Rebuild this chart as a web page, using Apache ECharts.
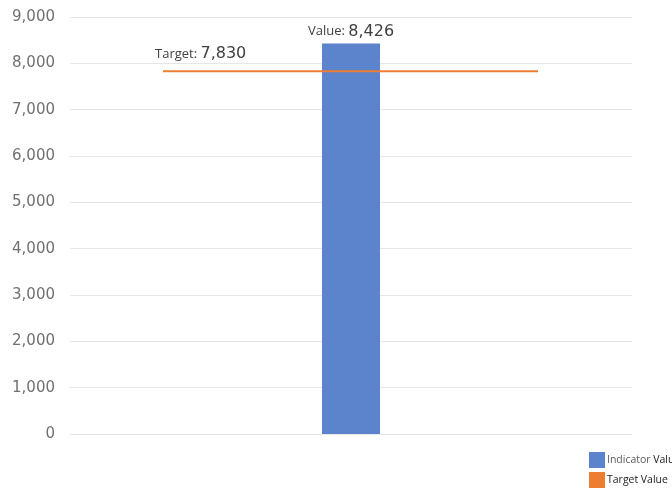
<!doctype html>
<html>
<head>
<meta charset="utf-8">
<title>Indicator vs Target</title>
<script src="https://cdn.jsdelivr.net/npm/echarts@6/dist/echarts.min.js"></script>
<style>
  html, body { margin: 0; padding: 0; background: #fff; }
  #chart { width: 672px; height: 492px; }
</style>
</head>
<body>
<div id="chart"></div>
<script>
// data
var categories = ['Indicator'];
var indicatorValues = [8426];
var targetValue = 7830;
var yTicks = { min: 0, max: 9000, step: 1000 };
// where the target line starts / ends across the plot (fraction of width)
var targetSpan = [0.1655, 0.8327];

var fmt = function (v) { return v.toLocaleString('en-US'); };

var chart = echarts.init(document.getElementById('chart'));

var option = {
  animation: false,
  textStyle: { fontFamily: 'Lato, sans-serif' },
  grid: { left: 70, right: 40, top: 17, bottom: 58 },
  legend: {
    orient: 'vertical',
    left: 589,
    top: 452,
    padding: 0,
    itemWidth: 16,
    itemHeight: 16,
    itemGap: 4,
    icon: 'rect',
    textStyle: {
      fontSize: 10,
      padding: [0, 0, 0, -3],
      rich: {
        a: { fontSize: 10.5, color: '#595959', fontFamily: 'Open Sans' },
        b: { fontSize: 10.5, color: '#222', fontFamily: 'Open Sans' }
      }
    },
    formatter: function (name) {
      var parts = name.split(' ');
      var first = parts[0] === 'Target' ? 'b' : 'a';
      return '{' + first + '|' + parts[0] + '} {b|' + parts[1] + '}';
    },
    data: ['Indicator Value', 'Target Value']
  },
  xAxis: [
    {
      type: 'category',
      data: categories,
      axisLine: { show: false },
      axisTick: { show: false },
      axisLabel: { show: false }
    },
    {
      type: 'value',
      min: 0,
      max: 1,
      show: false
    }
  ],
  yAxis: {
    type: 'value',
    min: yTicks.min,
    max: yTicks.max,
    interval: yTicks.step,
    axisLine: { show: false },
    axisTick: { show: false },
    axisLabel: {
      color: '#707070',
      fontSize: 15,
      margin: 15,
      fontFamily: 'DejaVu Sans',
      formatter: fmt
    },
    splitLine: { lineStyle: { color: '#e6e6e6', width: 1 } }
  },
  series: [
    {
      name: 'Indicator Value',
      type: 'bar',
      data: indicatorValues,
      barWidth: 58,
      itemStyle: { color: '#5b84cc' },
      label: {
        show: true,
        position: 'top',
        distance: 4,
        formatter: function (p) { return '{a|Value: }{b|' + fmt(p.value) + '}'; },
        rich: {
          a: { fontSize: 13, color: '#404040', fontFamily: 'Open Sans' },
          b: { fontSize: 16, color: '#404040', fontFamily: 'DejaVu Sans' }
        }
      },
      z: 2
    },
    {
      name: 'Target Value',
      type: 'line',
      xAxisIndex: 1,
      symbol: 'circle',
      symbolSize: 0,
      showSymbol: true,
      lineStyle: { color: '#ed7d31', width: 2 },
      itemStyle: { color: '#ed7d31' },
      data: [
        {
          value: [targetSpan[0], targetValue],
          label: {
            show: true,
            position: 'top',
            align: 'left',
            offset: [-8, -4],
            formatter: function (p) { return '{a|Target: }{b|' + fmt(p.value[1]) + '}'; },
            rich: {
              a: { fontSize: 13, color: '#404040', fontFamily: 'Open Sans' },
              b: { fontSize: 16, color: '#404040', fontFamily: 'DejaVu Sans' }
            }
          }
        },
        [targetSpan[1], targetValue]
      ],
      z: 3
    }
  ]
};

chart.setOption(option);
</script>
</body>
</html>
